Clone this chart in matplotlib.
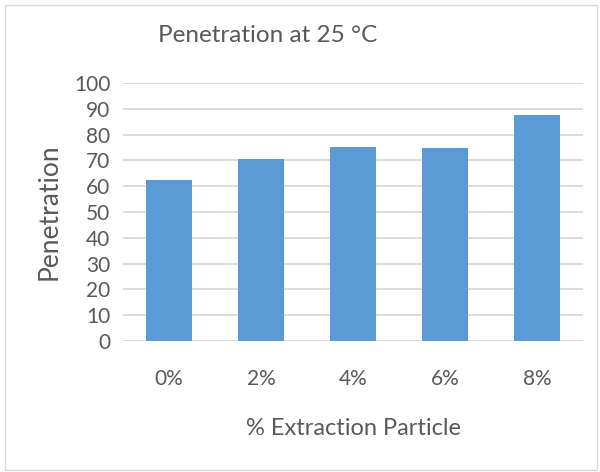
import matplotlib.pyplot as plt
from matplotlib.patches import Rectangle

# Penetration readings for each extraction particle content
categories = ["0%", "2%", "4%", "6%", "8%"]
penetration = [62.3, 70.4, 75.2, 74.8, 87.7]
y_ticks = list(range(0, 101, 10))

plt.rcParams['font.family'] = ['Lato', 'DejaVu Sans']
text_color = '#595959'

fig = plt.figure(figsize=(6.0, 4.72), dpi=100)
ax = fig.add_axes([123 / 600, 1 - 341 / 472, 460 / 600, 258 / 472])

x = range(len(categories))
ax.bar(x, penetration, width=0.5, color='#5B9BD5', zorder=3)

ax.set_xlim(-0.5, len(categories) - 0.5)
ax.set_ylim(0, 100)
ax.set_yticks(y_ticks)
ax.set_xticks(list(x))
ax.set_xticklabels(categories)
ax.yaxis.grid(True, color='#D9D9D9', lw=1.3, zorder=0)
ax.set_axisbelow(True)
for s in ax.spines.values():
    s.set_visible(False)
ax.tick_params(axis='both', length=0, labelsize=15, labelcolor=text_color)
ax.tick_params(axis='x', pad=20)
ax.tick_params(axis='y', pad=9)

fig.text(268 / 600, 1 - 42 / 472, "Penetration at 25 °C", fontsize=17.5,
         color=text_color, ha='center', va='baseline')
ax.set_xlabel("% Extraction Particle", fontsize=17, color=text_color, labelpad=21)
ax.set_ylabel("Penetration", fontsize=19, color=text_color, labelpad=9)

# chart area border
fig.patches.append(Rectangle((5 / 600, 2 / 472), 592 / 600, 465 / 472,
                             transform=fig.transFigure, fill=False,
                             edgecolor='#D9D9D9', lw=1))

plt.savefig("out.png", dpi=100)
